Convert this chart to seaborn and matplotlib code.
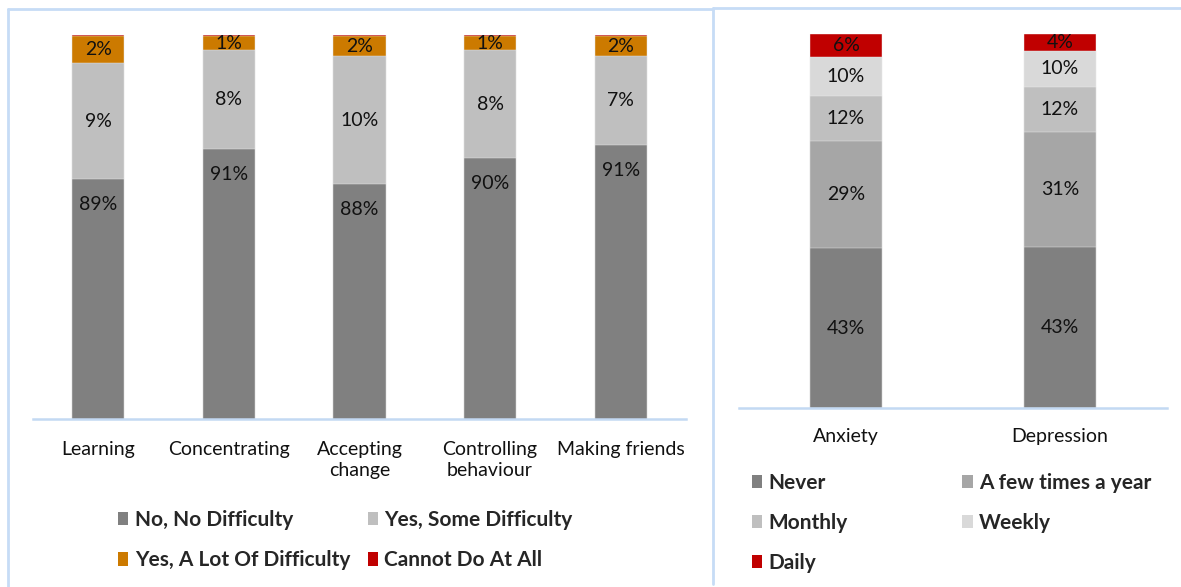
import matplotlib
matplotlib.use("Agg")
import matplotlib.pyplot as plt
import seaborn as sns
import numpy as np
import pandas as pd
from matplotlib.patches import Patch
from matplotlib.lines import Line2D

# ---------------- data ----------------
diff_categories = ["Learning", "Concentrating", "Accepting\nchange", "Controlling\nbehaviour", "Making friends"]
diff_series = ["No, No Difficulty", "Yes, Some Difficulty", "Yes, A Lot Of Difficulty", "Cannot Do At All"]
no_difficulty = [88.75, 91.07, 88.36, 90.41, 91.40]
some_difficulty = [9.04, 7.73, 9.98, 8.39, 6.93]
lot_difficulty = [2.13, 1.12, 1.59, 1.12, 1.59]
cannot_do = [0.08, 0.08, 0.07, 0.08, 0.08]

mh_categories = ["Anxiety", "Depression"]
mh_series = ["Never", "A few times a year", "Monthly", "Weekly", "Daily"]
never = [42.94, 43.21]
few_times = [28.61, 30.55]
monthly = [12.03, 12.25]
weekly = [10.43, 9.60]
daily = [5.99, 4.39]

diff_colors = ["#808080", "#BFBFBF", "#CC7A00", "#C00000"]
mh_colors = ["#808080", "#A6A6A6", "#BFBFBF", "#D9D9D9", "#C00000"]
AXIS_BLUE = "#C3D9F3"

sns.set_theme(style="white")
plt.rcParams["font.family"] = ["Lato", "DejaVu Sans"]

fig = plt.figure(figsize=(11.81, 5.87), dpi=100)
ax1 = fig.add_axes([0.0279, 0.2862, 0.5529, 0.6542])
ax2 = fig.add_axes([0.6257, 0.3044, 0.3624, 0.6371])

FS = 14
LEG_FS = 15


def stacked(ax, cats, series_names, layers, colors, width, label_layers, gray_offset=None):
    df = pd.DataFrame({name: vals for name, vals in zip(series_names, layers)})
    df["cat"] = cats
    cum = df[series_names].cumsum(axis=1)
    # draw from tallest cumulative to shortest
    for i in range(len(series_names) - 1, -1, -1):
        name = series_names[i]
        sns.barplot(x=df["cat"], y=cum[name], color=colors[i], width=width, ax=ax,
                    order=cats, edgecolor="#EDEDED", linewidth=0.3, saturation=1)
    # labels
    for j, c in enumerate(cats):
        for i in label_layers:
            name = series_names[i]
            top = cum[name].iloc[j]
            val = df[name].iloc[j]
            if gray_offset is not None and i == 0:
                y = top - gray_offset
            else:
                y = top - val / 2
            ax.text(j, y, f"{round(val):d}%", ha="center", va="center", fontsize=FS,
                    color="#111111")
    return df


stacked(ax1, diff_categories, diff_series,
        [no_difficulty, some_difficulty, lot_difficulty, cannot_do],
        diff_colors, 0.40, [0, 1, 2], gray_offset=2.0)
ax1.set_ylim(70, 100)
ax1.set_xlim(-0.5, 4.5)

stacked(ax2, mh_categories, mh_series,
        [never, few_times, monthly, weekly, daily],
        mh_colors, 0.333, [0, 1, 2, 3, 4])
ax2.set_ylim(0, 100)
ax2.set_xlim(-0.5, 1.5)

for ax, pad in ((ax1, 15.5), (ax2, 14)):
    ax.set_xlabel("")
    ax.set_ylabel("")
    ax.set_yticks([])
    for s in ("left", "right", "top"):
        ax.spines[s].set_visible(False)
    ax.spines["bottom"].set_color(AXIS_BLUE)
    ax.spines["bottom"].set_linewidth(1.8)
    ax.tick_params(axis="x", length=0, pad=pad, labelsize=FS, colors="#111111")
    for t in ax.get_xticklabels():
        t.set_linespacing(1.35)
    ax.set_facecolor("none")

# legends
def sq(c):
    return Patch(facecolor=c, edgecolor="none")

h1 = [sq(diff_colors[0]), sq(diff_colors[2]), sq(diff_colors[1]), sq(diff_colors[3])]
l1 = [diff_series[0], diff_series[2], diff_series[1], diff_series[3]]
fig.legend(h1, l1, ncol=2, loc="upper left", bbox_to_anchor=(0.0999, 0.131),
           bbox_transform=fig.transFigure, frameon=False,
           prop={"weight": "bold", "size": LEG_FS}, handlelength=0.5, handleheight=0.6,
           handletextpad=0.3, columnspacing=0.85, labelspacing=0.97, borderpad=0,
           borderaxespad=0)

h2 = [sq(mh_colors[0]), sq(mh_colors[2]), sq(mh_colors[4]), sq(mh_colors[1]), sq(mh_colors[3])]
l2 = [mh_series[0], mh_series[2], mh_series[4], mh_series[1], mh_series[3]]
fig.legend(h2, l2, ncol=2, loc="upper left", bbox_to_anchor=(0.6367, 0.195),
           bbox_transform=fig.transFigure, frameon=False,
           prop={"weight": "bold", "size": LEG_FS}, handlelength=0.5, handleheight=0.6,
           handletextpad=0.3, columnspacing=5.5, labelspacing=0.97, borderpad=0,
           borderaxespad=0)

# panel borders (pixel -> figure fraction)
W, H = 1181, 587
def fx(px):
    return px / W
def fy(py):
    return 1 - py / H

border_kw = dict(color="#C6DCF6", linewidth=2.0, transform=fig.transFigure)
fig.add_artist(Line2D([fx(8), fx(8)], [fy(9), fy(587)], **border_kw))
fig.add_artist(Line2D([fx(8), fx(713)], [fy(9), fy(9)], **border_kw))
fig.add_artist(Line2D([fx(713), fx(713)], [fy(8), fy(584)], **border_kw))
fig.add_artist(Line2D([fx(713), fx(1181)], [fy(8), fy(8)], **border_kw))

fig.savefig("out.png", dpi=100)
